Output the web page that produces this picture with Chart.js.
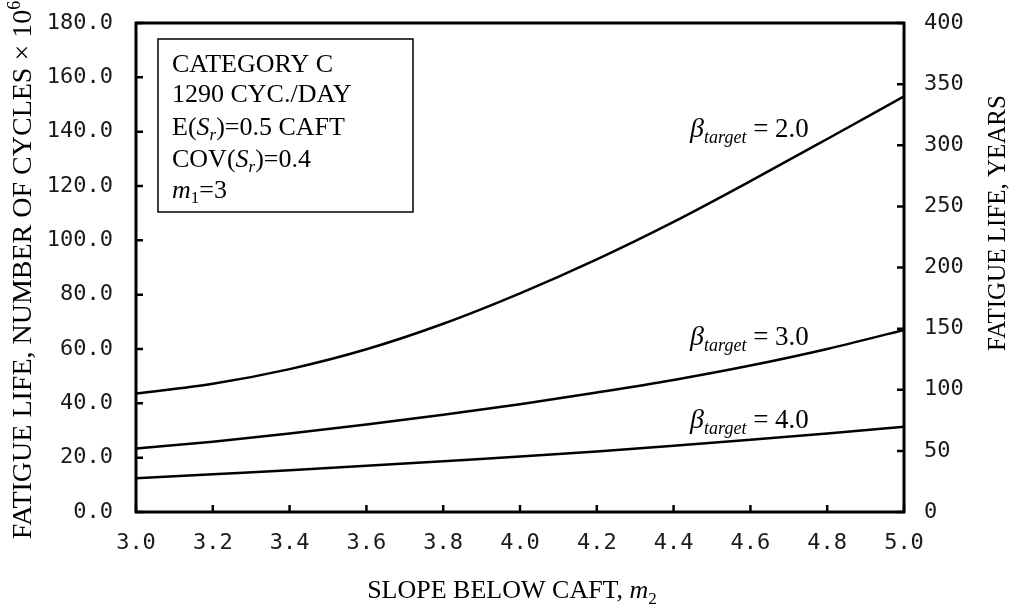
<!DOCTYPE html>
<html lang="en">
<head>
<meta charset="UTF-8">
<title>Fatigue life vs slope below CAFT</title>
<script src="https://cdn.jsdelivr.net/npm/chart.js"></script>
<style>
    body { margin: 0; background-color: #fff; }
    .container { width: 1016px; height: 612px; }
</style>
</head>
<body>
<div class="container">
    <canvas id="grafico" width="1016" height="612"></canvas>
</div>
<script>
// slope below CAFT, m2
const slopes = [3.0, 3.2, 3.4, 3.6, 3.8, 4.0, 4.2, 4.4, 4.6, 4.8, 5.0];
// fatigue life, million cycles
const beta2 = [43.6, 47.2, 52.6, 59.9, 69.3, 80.5, 93.0, 106.8, 121.8, 137.3, 153.0];
const beta3 = [23.4, 25.9, 28.9, 32.2, 35.8, 39.7, 44.0, 48.6, 53.9, 60.0, 67.0];
const beta4 = [12.4, 13.9, 15.4, 17.0, 18.7, 20.4, 22.3, 24.4, 26.6, 28.9, 31.4];
const betaNames = ['2.0', '3.0', '4.0'];

const xTicks = [3.0, 3.2, 3.4, 3.6, 3.8, 4.0, 4.2, 4.4, 4.6, 4.8, 5.0];
const cycleTicks = [0, 20, 40, 60, 80, 100, 120, 140, 160, 180];
const yearTicks = [0, 50, 100, 150, 200, 250, 300, 350, 400];

const serif = "'Liberation Serif', 'Times New Roman', serif";

function richWidth(ctx, parts) {
    let w = 0;
    parts.forEach(p => { ctx.font = p[1]; w += ctx.measureText(p[0]).width; });
    return w;
}
function drawRich(ctx, parts, x, y) {
    let cx = x;
    parts.forEach(p => {
        ctx.font = p[1];
        ctx.fillText(p[0], cx, y + (p[2] || 0));
        cx += ctx.measureText(p[0]).width;
    });
}

const framePlugin = {
    id: 'frame',
    afterDraw(chart) {
        const ctx = chart.ctx;
        const a = chart.chartArea;
        const sx = chart.scales.x, sy = chart.scales.y, sy2 = chart.scales.y2;
        ctx.save();
        ctx.strokeStyle = '#000';
        ctx.fillStyle = '#000';

        // frame
        ctx.lineWidth = 3;
        ctx.strokeRect(a.left, a.top, a.right - a.left, a.bottom - a.top);

        // inward ticks
        ctx.lineWidth = 2.5;
        ctx.beginPath();
        xTicks.forEach(v => {
            const px = sx.getPixelForValue(v);
            ctx.moveTo(px, a.bottom); ctx.lineTo(px, a.bottom - 7);
        });
        cycleTicks.forEach(v => {
            const py = sy.getPixelForValue(v);
            ctx.moveTo(a.left, py); ctx.lineTo(a.left + 7, py);
        });
        yearTicks.forEach(v => {
            const py = sy2.getPixelForValue(v);
            ctx.moveTo(a.right, py); ctx.lineTo(a.right - 7, py);
        });
        ctx.stroke();

        // info box
        const bx = a.left + 22, by = a.top + 16;
        ctx.lineWidth = 1.5;
        ctx.strokeRect(bx, by, 255, 173);
        ctx.textBaseline = 'alphabetic';
        ctx.textAlign = 'left';
        const f = '26px ' + serif, fi = 'italic 26px ' + serif, fs = 'italic 17px ' + serif, fr = '17px ' + serif;
        const tx = bx + 14;
        drawRich(ctx, [['CATEGORY C', f]], tx, by + 33);
        drawRich(ctx, [['1290 CYC./DAY', f]], tx, by + 63);
        drawRich(ctx, [['E(', f], ['S', fi], ['r', fs, 5], [')=0.5 CAFT', f]], tx, by + 96);
        drawRich(ctx, [['COV(', f], ['S', fi], ['r', fs, 5], [')=0.4', f]], tx, by + 128);
        drawRich(ctx, [['m', fi], ['1', fr, 5], ['=3', f]], tx, by + 159);

        // curve labels
        const lx = sx.getPixelForValue(4.443);
        const ly = [138.0, 61.5, 30.9];
        betaNames.forEach((n, i) => {
            drawRich(ctx, [['β', 'italic 28px ' + serif], ['target', 'italic 18px ' + serif, 6], [' = ' + n, '27px ' + serif]],
                lx, sy.getPixelForValue(ly[i]));
        });

        // x title
        const xt = [['SLOPE BELOW CAFT, ', '26px ' + serif], ['m', 'italic 26px ' + serif], ['2', fr, 6]];
        drawRich(ctx, xt, 512 - richWidth(ctx, xt) / 2, 598);

        // left title
        const lt = [['FATIGUE LIFE, NUMBER OF CYCLES × 10', '28px ' + serif], ['6', '18px ' + serif, -11]];
        ctx.save();
        ctx.translate(31, 270);
        ctx.rotate(-Math.PI / 2);
        drawRich(ctx, lt, -richWidth(ctx, lt) / 2, 0);
        ctx.restore();

        // right title
        const rt = [['FATIGUE LIFE, YEARS', '25px ' + serif]];
        ctx.save();
        ctx.translate(1005, 223);
        ctx.rotate(-Math.PI / 2);
        drawRich(ctx, rt, -richWidth(ctx, rt) / 2, 0);
        ctx.restore();

        ctx.restore();
    }
};

const tickFont = { family: "'DejaVu Sans Mono', monospace", size: 22 };

function curve(values) {
    return {
        data: slopes.map((x, i) => ({ x: x, y: values[i] })),
        borderColor: '#000',
        borderWidth: 2.5,
        pointRadius: 0,
        fill: false,
        cubicInterpolationMode: 'monotone',
        yAxisID: 'y'
    };
}

var grafico = document.getElementById('grafico');
var lineChart = new Chart(grafico, {
    type: 'line',
    data: { datasets: [curve(beta2), curve(beta3), curve(beta4)] },
    options: {
        responsive: false,
        animation: false,
        devicePixelRatio: 1,
        layout: { padding: { top: 23, left: 0, right: 0, bottom: 0 } },
        plugins: { legend: { display: false }, tooltip: { enabled: false } },
        scales: {
            x: {
                type: 'linear', min: 3, max: 5,
                afterBuildTicks: s => { s.ticks = xTicks.map(v => ({ value: v })); },
                afterFit: s => { s.height = 100; s.paddingLeft = 0; s.paddingRight = 0; },
                grid: { display: false, drawTicks: false },
                border: { display: false },
                ticks: { font: tickFont, color: '#1a1a1a', padding: 18, maxRotation: 0, callback: v => v.toFixed(1) }
            },
            y: {
                type: 'linear', position: 'left', min: 0, max: 180,
                afterBuildTicks: s => { s.ticks = cycleTicks.map(v => ({ value: v })); },
                afterFit: s => { s.width = 136; s.paddingTop = 0; s.paddingBottom = 0; },
                grid: { display: false, drawTicks: false },
                border: { display: false },
                ticks: { font: tickFont, color: '#1a1a1a', padding: 23, callback: v => v.toFixed(1) }
            },
            y2: {
                type: 'linear', position: 'right', min: 0, max: 400,
                afterBuildTicks: s => { s.ticks = yearTicks.map(v => ({ value: v })); },
                afterFit: s => { s.width = 112; s.paddingTop = 0; s.paddingBottom = 0; },
                grid: { display: false, drawTicks: false },
                border: { display: false },
                ticks: { font: tickFont, color: '#1a1a1a', padding: 20 }
            }
        }
    },
    plugins: [framePlugin]
});
</script>
</body>
</html>
